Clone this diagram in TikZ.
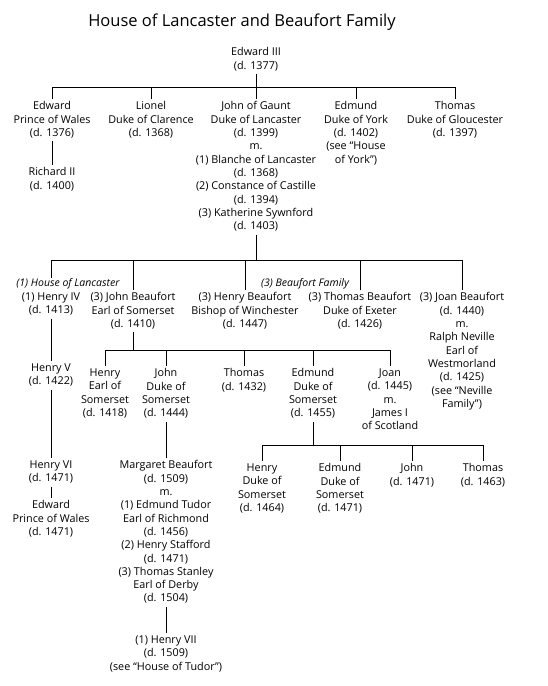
\documentclass[tikz,border=0pt]{standalone}
\usepackage{fontspec}
\setmainfont{Open Sans}

\begin{document}
\begin{tikzpicture}[
  x=1pt, y=-1pt,
  person/.style={anchor=north, align=center, inner sep=3pt, font=\fontsize{10.8}{13.3}\selectfont},
  house/.style={inner sep=1pt, font=\fontsize{10.5}{12}\selectfont\itshape},
  link/.style={line width=0.7pt}
]

\useasboundingbox (0,0) rectangle (548,686);

\node[font=\fontsize{16.5}{20}\selectfont] (title) at (242,22) {House of Lancaster and Beaufort Family};

% Edward III and his sons
\node[person] (edw3) at (256,44.5) {Edward III\\(d. 1377)};
\node[person] (edwp) at (52,98.5) {Edward\\Prince of Wales\\(d. 1376)};
\node[person] (lionel) at (151,98.5) {Lionel\\Duke of Clarence\\(d. 1368)};
\node[person] (john) at (256,98.5) {John of Gaunt\\Duke of Lancaster\\(d. 1399)\\m.\\(1) Blanche of Lancaster\\(d. 1368)\\(2) Constance of Castille\\(d. 1394)\\(3) Katherine Sywnford\\(d. 1403)};
\node[person] (edmy) at (356,98.5) {Edmund\\Duke of York\\(d. 1402)\\(see “House\\of York”)};
\node[person] (thomg) at (455,98.5) {Thomas\\Duke of Gloucester\\(d. 1397)};
\node[person] (rich2) at (52,164.5) {Richard II\\(d. 1400)};

% Children of John of Gaunt
\node[house] (lanc) at (68,284) {(1) House of Lancaster};
\node[house] (beauf) at (305,284) {(3) Beaufort Family};
\node[person] (hen4) at (51,289.5) {(1) Henry IV\\(d. 1413)};
\node[person] (jobf) at (133,289.5) {(3) John Beaufort\\Earl of Somerset\\(d. 1410)};
\node[person] (hebf) at (245,289.5) {(3) Henry Beaufort\\Bishop of Winchester\\(d. 1447)};
\node[person] (thbf) at (360,289.5) {(3) Thomas Beaufort\\Duke of Exeter\\(d. 1426)};
\node[person] (joanbf) at (462,289.5) {(3) Joan Beaufort\\(d. 1440)\\m.\\Ralph Neville\\Earl of\\Westmorland\\(d. 1425)\\(see “Neville\\Family”)};

% House of Lancaster
\node[person] (hen5) at (51,360.5) {Henry V\\(d. 1422)};
\node[person] (hen6) at (51,457.5) {Henry VI\\(d. 1471)};
\node[person] (edwp2) at (51,497.5) {Edward\\Prince of Wales\\(d. 1471)};

% Children of John Beaufort
\node[person] (hensom) at (105,365.5) {Henry\\Earl of\\Somerset\\(d. 1418)};
\node[person] (josom) at (166,365.5) {John\\Duke of\\Somerset\\(d. 1444)};
\node[person] (thom) at (244,365.5) {Thomas\\(d. 1432)};
\node[person] (edsom) at (313,365.5) {Edmund\\Duke of\\Somerset\\(d. 1455)};
\node[person] (joan) at (390,365.5) {Joan\\(d. 1445)\\m.\\James I\\of Scotland};

\node[person] (marg) at (166,457.5) {Margaret Beaufort\\(d. 1509)\\m.\\(1) Edmund Tudor\\Earl of Richmond\\(d. 1456)\\(2) Henry Stafford\\(d. 1471)\\(3) Thomas Stanley\\Earl of Derby\\(d. 1504)};
\node[person] (hen7) at (166,632.5) {(1) Henry VII\\(d. 1509)\\(see “House of Tudor”)};

% Children of Edmund Beaufort
\node[person] (hedsom) at (262,460.5) {Henry\\Duke of\\Somerset\\(d. 1464)};
\node[person] (eddsom) at (340,460.5) {Edmund\\Duke of\\Somerset\\(d. 1471)};
\node[person] (john2) at (412,460.5) {John\\(d. 1471)};
\node[person] (thom2) at (483,460.5) {Thomas\\(d. 1463)};

% Bars
\coordinate (j1) at (256,87);
\coordinate (j2) at (256,260);
\coordinate (j3) at (133,350);
\coordinate (j4) at (313,445);

\draw[link] (edw3) -- (j1);
\foreach \c in {edwp, lionel, john, edmy, thomg}
  \draw[link] (j1) -| (\c);

\draw[link] (john) -- (j2);
\draw[link] (j2) -| (hen4 |- lanc.north);
\foreach \c in {jobf, hebf, thbf, joanbf}
  \draw[link] (j2) -| (\c);

\draw[link] (jobf) -- (j3);
\foreach \c in {hensom, josom, thom, edsom, joan}
  \draw[link] (j3) -| (\c);

\draw[link] (edsom) -- (j4);
\foreach \c in {hedsom, eddsom, john2, thom2}
  \draw[link] (j4) -| (\c);

% Lines of descent
\draw[link] (edwp) -- (rich2);
\draw[link] (hen4) -- (hen5);
\draw[link] (hen5) -- (hen6);
\draw[link] (hen6) -- (edwp2);
\draw[link] (josom) -- (marg);
\draw[link] (marg) -- (hen7);

\end{tikzpicture}
\end{document}
